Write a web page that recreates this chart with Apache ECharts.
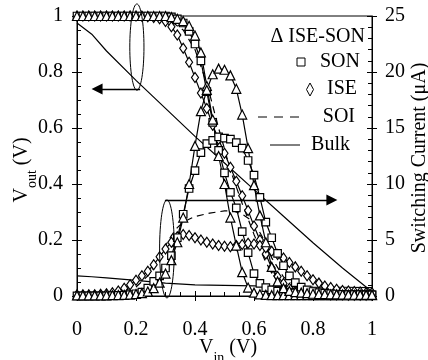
<!DOCTYPE html>
<html><head><meta charset="utf-8">
<script src="https://cdn.jsdelivr.net/npm/echarts@6/dist/echarts.min.js"></script>
<style>html,body{margin:0;padding:0;background:#fff}#c{width:428px;height:360px}</style>
</head><body><div id="c"></div>
<script>
// Input voltage samples (V)
const vin = [0,0.02,0.04,0.06,0.08,0.1,0.12,0.14,0.16,0.18,0.2,0.22,0.24,0.26,0.28,0.3,0.32,0.34,0.36,0.38,0.4,0.42,0.44,0.46,0.48,0.5,0.52,0.54,0.56,0.58,0.6,0.62,0.64,0.66,0.68,0.7,0.72,0.74,0.76,0.78,0.8,0.82,0.84,0.86,0.88,0.9,0.92,0.94,0.96,0.98,1];
// Transfer curves Vout (V)
const iseSonV = [1,1,1,1,1,1,1,1,1,1,1,1,1,1,1,1,0.996,0.99,0.982,0.965,0.93,0.87,0.75,0.63,0.5,0.4,0.28,0.18,0.085,0.03,0.012,0.006,0.004,0.003,0.003,0.003,0.003,0.003,0.003,0.003,0.003,0.003,0.003,0.003,0.003,0.003,0.003,0.003,0.003,0.003,0.003];
const sonV = [1,1,1,1,1,1,1,1,1,1,1,1,1,1,1,1,0.997,0.99,0.975,0.945,0.9,0.84,0.73,0.62,0.52,0.44,0.37,0.315,0.23,0.155,0.08,0.045,0.03,0.022,0.017,0.014,0.012,0.011,0.01,0.009,0.008,0.008,0.007,0.007,0.006,0.006,0.005,0.005,0.005,0.004,0.004];
const iseV = [1,1,1,1,1,1,1,1,1,1,1,0.999,0.997,0.995,0.99,0.98,0.962,0.932,0.885,0.835,0.78,0.725,0.67,0.61,0.56,0.51,0.46,0.41,0.358,0.305,0.25,0.2,0.15,0.1,0.07,0.045,0.028,0.018,0.012,0.008,0.006,0.005,0.005,0.004,0.004,0.004,0.003,0.003,0.003,0.003,0.003];
const vinSoi = [0,0.2,0.28,0.32,0.36,0.4,0.44,0.48,0.52,0.56,0.6,0.64,0.68,0.72,0.8,1];
const soiV = [1,1,0.995,0.98,0.95,0.88,0.76,0.6,0.45,0.33,0.22,0.12,0.05,0.02,0.008,0.004];
const vinBulk = [0,0.05,0.1,0.2,0.3,0.4,0.5,0.6,0.7,0.8,0.9,1];
const bulkV = [0.975,0.935,0.875,0.77,0.67,0.57,0.475,0.38,0.285,0.19,0.1,0.015];
// Switching currents (uA)
const iseSonI = [0.05,0.05,0.05,0.05,0.05,0.06,0.07,0.08,0.1,0.13,0.18,0.25,0.4,0.7,1.2,2.0,3.2,4.8,7.0,10.0,13.4,16.5,18.4,19.8,20.3,20.2,19.7,18.5,16.2,13.2,9.9,7.2,4.8,2.6,1.3,0.7,0.45,0.35,0.3,0.25,0.2,0.18,0.16,0.15,0.14,0.13,0.12,0.11,0.1,0.1,0.1];
const sonI = [0.02,0.02,0.02,0.02,0.02,0.02,0.03,0.05,0.08,0.12,0.2,0.35,0.7,1.3,1.8,2.5,3.6,5.2,7.3,9.6,11.2,12.8,13.6,13.9,14.2,14.1,14.0,13.7,13.2,12.1,10.8,8.8,6.6,5.2,3.8,2.7,1.8,1.2,0.8,0.55,0.4,0.3,0.25,0.2,0.18,0.15,0.13,0.12,0.11,0.1,0.1];
const iseI = [0.1,0.1,0.1,0.12,0.15,0.2,0.3,0.45,0.7,1.0,1.4,1.8,2.2,2.8,3.5,4.2,4.8,5.3,5.5,5.4,5.2,5.0,4.8,4.65,4.5,4.45,4.4,4.5,4.6,4.7,4.65,4.5,4.3,4.0,3.7,3.4,3.0,2.6,2.2,1.8,1.45,1.15,0.9,0.75,0.6,0.5,0.45,0.4,0.35,0.3,0.3];
const vinSoiI = [0,0.1,0.2,0.24,0.28,0.3,0.32,0.34,0.36,0.4,0.45,0.5,0.53,0.56,0.6,0.63,0.66,0.7,0.75,0.8,0.9,1];
const soiI = [0.05,0.1,0.8,1.8,3.4,4.5,5.4,6.1,6.6,7.1,7.4,7.6,7.6,7.3,6.6,5.2,3.4,1.7,0.7,0.3,0.1,0.05];
const bulkI = [1.8,1.72,1.62,1.4,1.15,1.0,0.95,0.9,0.85,0.8,0.78,0.75];
// Tick values
const xTicks = {min:0, max:1, interval:0.2};
const yLeftTicks = {min:0, max:1, interval:0.2};
const yRightTicks = {min:0, max:25, interval:5};
// Annotations (data units)
const arrows = [
  {from:[0.214,0.739], to:[0.068,0.739]},
  {from:[0.298,0.343], to:[0.864,0.343]}
];
const ellipses = [
  {c:[0.203,0.889], rx:0.024, ry:0.154},
  {c:[0.305,0.168], rx:0.025, ry:0.175}
];

const FONT = '"Liberation Serif","Times New Roman",serif';
const chart = echarts.init(document.getElementById('c'));
const pairs = (xs, ys) => xs.map((x, i) => [x, ys[i]]);
const mkStyle = {color:'#fff', borderColor:'#000', borderWidth:1.2};
function series(name, xs, ys, yIdx, symbol, size, dashed, extra) {
  return Object.assign({
    name, type:'line', xAxisIndex:0, yAxisIndex:yIdx,
    data: pairs(xs, ys),
    showSymbol: !!symbol, symbol: symbol || 'none', symbolSize: size,
    itemStyle: mkStyle,
    lineStyle: {color:'#000', width:1.2, type: dashed ? [7,5] : 'solid'},
    silent:true, animation:false, z: 3
  }, extra || {});
}
const lbl = {color:'#000', fontFamily:FONT, fontSize:20};
const axLine = {show:true, lineStyle:{color:'#000', width:1}};
function axisPair(pos, ticks, labelMargin, minorSplit) {
  return [
    Object.assign({type:'value', position:pos, axisLine:axLine,
      axisTick:{show:true, inside:false, length:5, lineStyle:{color:'#000'}},
      axisLabel:Object.assign({margin:labelMargin}, lbl),
      splitLine:{show:false}}, ticks),
    Object.assign({type:'value', position:pos, axisLine:{show:false},
      axisTick:{show:true, inside:true, length:5, lineStyle:{color:'#000'}},
      minorTick:{show:true, splitNumber:minorSplit, length:4, lineStyle:{color:'#000'}},
      axisLabel:{show:false}, splitLine:{show:false}, minorSplitLine:{show:false}}, ticks)
  ];
}
const xs = axisPair('bottom', xTicks, 24, 4);
const yl = axisPair('left', yLeftTicks, 14, 4);
const yr = axisPair('right', yRightTicks, 13, 5);

chart.setOption({
  animation:false,
  backgroundColor:'#fff',
  grid:{left:77, right:56, top:16, bottom:64, show:true, borderColor:'#000', borderWidth:1, backgroundColor:'transparent'},
  xAxis: xs,
  yAxis: [yl[0], yl[1], yr[0], yr[1]],
  series: [
    series('Bulk', vinBulk, bulkV, 0, null, 0, false, {
      markLine:{silent:true, animation:false, symbol:['none','triangle'], symbolSize:11,
        label:{show:false}, lineStyle:{color:'#000', width:1.3, type:'solid'},
        data: arrows.map(a => [{coord:a.from}, {coord:a.to}])}
    }),
    series('Bulk I', vinBulk, bulkI, 2, null, 0, false),
    series('SOI', vinSoi, soiV, 0, null, 0, true),
    series('SOI I', vinSoiI, soiI, 2, null, 0, true),
    series('ISE', vin, iseV, 0, 'diamond', [7,10], false),
    series('ISE I', vin, iseI, 2, 'diamond', [7,10], false),
    series('SON', vin, sonV, 0, 'rect', 7.5, false),
    series('SON I', vin, sonI, 2, 'rect', 7.5, false),
    series('ISE-SON', vin, iseSonV, 0, 'triangle', 9, false),
    series('ISE-SON I', vin, iseSonI, 2, 'triangle', 9, false)
  ]
});

const px = p => chart.convertToPixel({xAxisIndex:0, yAxisIndex:0}, p);
const g = [];
ellipses.forEach(e => {
  const c = px(e.c), rxp = px([e.c[0] + e.rx, e.c[1]])[0] - c[0], ryp = c[1] - px([e.c[0], e.c[1] + e.ry])[1];
  g.push({type:'ellipse', shape:{cx:c[0], cy:c[1], rx:rxp, ry:ryp}, style:{fill:'none', stroke:'#000', lineWidth:1}, z:10});
});
const T = (text, x, y, align, extra) => Object.assign({type:'text', x, y, z:20,
  style:{text, fontFamily:FONT, fontSize:20, fill:'#000', align, verticalAlign:'middle'}}, extra || {});
// legend
g.push(T('\u0394 ISE-SON', 365, 37, 'right'));
g.push(T('SON', 360, 62, 'right'));
g.push({type:'rect', shape:{x:297, y:58, width:8, height:8}, style:{fill:'#fff', stroke:'#000', lineWidth:1}, z:20});
g.push(T('ISE', 357, 89, 'right'));
g.push({type:'polygon', shape:{points:[[310,83],[313.5,89.5],[310,96],[306.5,89.5]]}, style:{fill:'#fff', stroke:'#000', lineWidth:1}, z:20});
g.push(T('SOI', 355, 117, 'right'));
g.push({type:'line', shape:{x1:258, y1:117, x2:301, y2:117}, style:{stroke:'#000', lineWidth:1, lineDash:[9,7]}, z:20});
g.push(T('Bulk', 350, 145, 'right'));
g.push({type:'line', shape:{x1:270, y1:145, x2:300, y2:145}, style:{stroke:'#000', lineWidth:1}, z:20});
// axis titles
const rich = {a:{fontFamily:FONT, fontSize:20, lineHeight:20, verticalAlign:'top', fill:'#000'},
              s:{fontFamily:FONT, fontSize:14, lineHeight:14, verticalAlign:'top', padding:[13,0,0,0], fill:'#000'}};
g.push({type:'text', x:228, y:348, z:20, style:{text:'{a|V}{s|in}{a| (V)}', rich, align:'center', verticalAlign:'middle'}});
g.push({type:'text', x:22, y:170, rotation:Math.PI/2, z:20, style:{text:'{a|V}{s|out}{a| (V)}', rich, align:'center', verticalAlign:'middle'}});
g.push(T('Switching Current (\u03bcA)', 420, 158, 'center', {rotation:Math.PI/2}));
chart.setOption({graphic:g});
</script></body></html>
